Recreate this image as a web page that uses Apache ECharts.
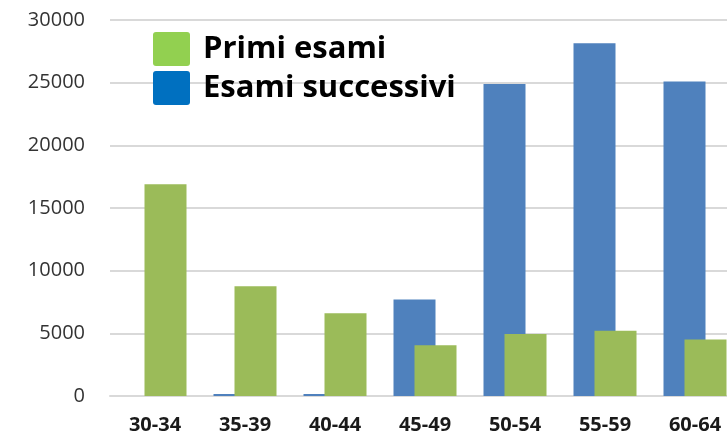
<!DOCTYPE html>
<html>
<head>
<meta charset="utf-8">
<script src="https://cdn.jsdelivr.net/npm/echarts@6/dist/echarts.min.js"></script>
<style>
  html, body { margin: 0; padding: 0; background: #fff; }
  #chart { width: 727px; height: 437px; }
</style>
</head>
<body>
<div id="chart"></div>
<script>
const categories = ['30-34', '35-39', '40-44', '45-49', '50-54', '55-59', '60-64']
const successivi = [0, 150, 150, 7700, 24900, 28150, 25100]
const primi = [16900, 8750, 6600, 4050, 4950, 5200, 4500]
const yTicks = { min: 0, max: 30000, interval: 5000 }

const chart = echarts.init(document.getElementById('chart'))

// square with slightly rounded corners, like the Office legend keys
const keyIcon = 'path://M3,0 L34,0 Q37,0 37,3 L37,31 Q37,34 34,34 L3,34 Q0,34 0,31 L0,3 Q0,0 3,0 Z'

const option = {
  animation: false,
  backgroundColor: '#fff',
  // the plot runs past the right edge of the picture
  grid: { left: 110, width: 630, top: 20, bottom: 41, outerBoundsMode: 'none' },
  legend: {
    data: [
      { name: 'Primi esami', itemStyle: { color: '#92d050' } },
      { name: 'Esami successivi', itemStyle: { color: '#0070c0' } }
    ],
    orient: 'vertical',
    left: 148,
    top: 27,
    itemWidth: 37,
    itemHeight: 34,
    itemGap: 5,
    icon: keyIcon,
    textStyle: {
      fontFamily: 'Open Sans',
      fontWeight: 'bold',
      fontSize: 31,
      lineHeight: 34,
      color: '#000',
      padding: [0, 0, 0, 8]
    }
  },
  xAxis: {
    type: 'category',
    data: categories,
    axisLine: { lineStyle: { color: '#d9d9d9', width: 2 } },
    axisTick: { show: false },
    axisLabel: {
      color: '#1a1a1a',
      fontFamily: 'Open Sans',
      fontWeight: 'bold',
      fontSize: 20,
      margin: 19
    }
  },
  yAxis: {
    type: 'value',
    min: yTicks.min,
    max: yTicks.max,
    interval: yTicks.interval,
    axisLine: { show: false },
    axisTick: { show: false },
    splitLine: { lineStyle: { color: '#d9d9d9', width: 2 } },
    axisLabel: {
      color: '#333',
      fontFamily: 'Open Sans',
      fontSize: 20,
      margin: 25,
      formatter: v => String(v)
    }
  },
  series: [
    {
      name: 'Esami successivi',
      type: 'bar',
      data: successivi,
      barWidth: 42,
      barGap: '-50%',
      itemStyle: { color: '#4f81bd' }
    },
    {
      name: 'Primi esami',
      type: 'bar',
      data: primi,
      barWidth: 42,
      itemStyle: { color: '#9bbb59' }
    }
  ]
}

chart.setOption(option)
</script>
</body>
</html>
